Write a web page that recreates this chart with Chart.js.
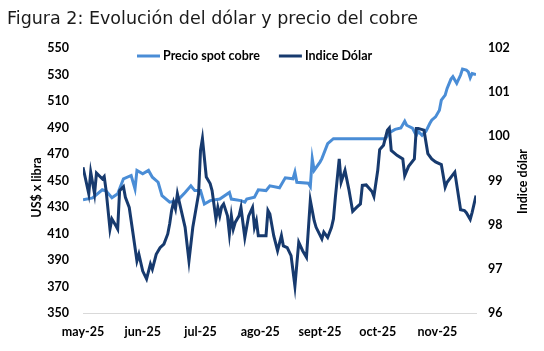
<!DOCTYPE html>
<html>
<head>
<meta charset="utf-8">
<script src="https://cdn.jsdelivr.net/npm/chart.js@4"></script>
<style>
  html, body { margin: 0; padding: 0; background: #ffffff; }
  #wrap { width: 544px; height: 351px; position: relative; }
</style>
</head>
<body>
<div id="wrap"><canvas id="c" width="544" height="351"></canvas></div>
<script>
const chartTitle = 'Figura 2: Evolución del dólar y precio del cobre';
const seriesNames = ['Precio spot cobre', 'Indice Dólar'];
const leftAxisTitle = 'US$ x libra';
const rightAxisTitle = 'Indice dólar';
const monthLabels = ['may-25', 'jun-25', 'jul-25', 'ago-25', 'sept-25', 'oct-25', 'nov-25'];
const monthStarts = ['2025-05-01', '2025-06-01', '2025-07-01', '2025-08-01', '2025-09-01', '2025-10-01', '2025-11-01'];

const copperDates = ['2025-05-01','2025-05-06','2025-05-11','2025-05-13','2025-05-16','2025-05-19','2025-05-22','2025-05-26','2025-05-28','2025-05-29',
  '2025-06-01','2025-06-04','2025-06-06','2025-06-09','2025-06-11','2025-06-15','2025-06-19','2025-06-23','2025-06-26','2025-06-28',
  '2025-07-01','2025-07-03','2025-07-06','2025-07-11','2025-07-16','2025-07-17','2025-07-22','2025-07-24','2025-07-25','2025-07-29','2025-07-31',
  '2025-08-04','2025-08-06','2025-08-11','2025-08-14','2025-08-18','2025-08-19','2025-08-20','2025-08-26','2025-08-27','2025-08-28','2025-08-29',
  '2025-09-01','2025-09-02','2025-09-05','2025-09-08',
  '2025-10-05','2025-10-07','2025-10-10','2025-10-13','2025-10-15','2025-10-16','2025-10-19','2025-10-21','2025-10-22','2025-10-24','2025-10-26','2025-10-28','2025-10-29','2025-10-31',
  '2025-11-02','2025-11-03','2025-11-05','2025-11-06','2025-11-08','2025-11-09','2025-11-11','2025-11-13','2025-11-14','2025-11-16','2025-11-17','2025-11-18','2025-11-19','2025-11-21'];
const copperValues = [435.4,436.9,443,442,437,440,451.3,453.8,443.7,457.6,
  455,457.6,452.5,448.7,438.6,433.6,434.8,441,446,442.4,
  442.4,432.3,434.8,436,441,436,434.8,433.6,436,437.4,443,
  442.4,446,444.5,452,451.3,456.3,448.7,448,445.5,466.5,457.6,
  463.9,466.5,477.8,481.6,
  481.6,486.1,488.6,489.6,494.7,491.7,489.6,484.1,487.1,484.1,487.1,493,495.5,498,
  503,510.6,514.4,519.5,526.5,528.3,523.3,529.6,534.1,533.3,532,527.5,530.8,530];

const dollarDates = ['2025-05-01','2025-05-04','2025-05-05','2025-05-07','2025-05-08','2025-05-11','2025-05-12','2025-05-13','2025-05-15','2025-05-16',
  '2025-05-18','2025-05-19','2025-05-20','2025-05-22','2025-05-23','2025-05-25','2025-05-27','2025-05-29','2025-05-30',
  '2025-06-01','2025-06-03','2025-06-05','2025-06-06','2025-06-08','2025-06-10','2025-06-12','2025-06-14','2025-06-15','2025-06-16','2025-06-17',
  '2025-06-18','2025-06-19','2025-06-20','2025-06-23','2025-06-25','2025-06-27','2025-06-30',
  '2025-07-01','2025-07-02','2025-07-04','2025-07-06','2025-07-07','2025-07-09','2025-07-10','2025-07-11','2025-07-12','2025-07-13','2025-07-15',
  '2025-07-16','2025-07-17','2025-07-18','2025-07-19','2025-07-21','2025-07-22','2025-07-24','2025-07-26','2025-07-28','2025-07-29','2025-07-30','2025-07-31',
  '2025-08-04','2025-08-05','2025-08-06','2025-08-08','2025-08-10','2025-08-12','2025-08-13','2025-08-15','2025-08-17','2025-08-19','2025-08-20',
  '2025-08-21','2025-08-23','2025-08-25','2025-08-27','2025-08-29','2025-08-30',
  '2025-09-02','2025-09-03','2025-09-05','2025-09-07','2025-09-08','2025-09-09','2025-09-11','2025-09-12','2025-09-14','2025-09-16','2025-09-18',
  '2025-09-20','2025-09-22','2025-09-23','2025-09-25','2025-09-28','2025-09-29',
  '2025-10-01','2025-10-02','2025-10-04','2025-10-06','2025-10-07','2025-10-08','2025-10-11','2025-10-14','2025-10-15','2025-10-17','2025-10-20',
  '2025-10-21','2025-10-22','2025-10-25','2025-10-27','2025-10-29','2025-10-31',
  '2025-11-03','2025-11-05','2025-11-06','2025-11-10','2025-11-13','2025-11-15','2025-11-16','2025-11-18','2025-11-19','2025-11-21'];
const dollarValues = [99.30,98.70,99.19,98.70,99.17,99.04,99.09,98.77,97.90,98.13,
  97.98,97.90,98.77,98.86,98.62,98.39,97.79,97.18,97.33,
  96.95,96.77,97.11,96.99,97.33,97.48,97.56,97.79,98.02,98.32,98.51,
  98.36,98.70,98.51,97.94,97.18,97.94,98.70,
  99.68,99.95,99.08,98.93,98.77,98.13,98.39,98.20,98.41,98.47,98.20,
  97.79,98.20,97.90,98.05,98.20,98.39,97.71,98.20,98.39,97.94,98.09,97.75,
  97.75,98.32,98.24,97.75,97.41,97.75,97.52,97.48,97.30,96.61,97.11,
  97.60,97.41,97.26,98.55,98.09,97.94,
  97.68,97.83,97.71,97.94,98.13,98.62,99.49,98.96,99.23,98.80,98.30,
  98.39,98.47,98.89,98.90,98.75,98.64,
  99.23,99.70,99.80,100.14,100.19,99.68,99.57,99.49,99.11,99.32,99.49,
  100.18,100.18,100.14,99.61,99.49,99.42,
  99.36,98.85,98.96,99.19,98.34,98.32,98.27,98.12,98.28,98.66];

const BASE = Date.UTC(2025, 4, 1);
function dayOf(s) {
  const p = s.split('-').map(Number);
  return (Date.UTC(p[0], p[1] - 1, p[2]) - BASE) / 86400000;
}
const monthTickDays = monthStarts.map(dayOf);
const lastDay = Math.max(dayOf(copperDates[copperDates.length - 1]), dayOf(dollarDates[dollarDates.length - 1]));

const COPPER = '#4a8dd6';
const DOLLAR = '#173a6e';
const LABEL_FONT = 'Lato, "Liberation Sans", sans-serif';

const decor = {
  id: 'decor',
  afterDraw(chart) {
    const ctx = chart.ctx;
    const ca = chart.chartArea;
    ctx.save();
    // title
    ctx.fillStyle = '#1a1a1a';
    ctx.font = '17.5px "DejaVu Sans"';
    ctx.textAlign = 'left';
    ctx.textBaseline = 'alphabetic';
    ctx.fillText(chartTitle, 7, 24);
    // legend
    ctx.font = 'bold 12.5px ' + LABEL_FONT;
    ctx.textBaseline = 'middle';
    let x = 137;
    const y = 56;
    chart.data.datasets.forEach((ds, i) => {
      ctx.strokeStyle = ds.borderColor;
      ctx.lineWidth = 3;
      ctx.beginPath();
      ctx.moveTo(x, y);
      ctx.lineTo(x + 23, y);
      ctx.stroke();
      ctx.fillStyle = '#000';
      ctx.fillText(ds.label, x + 26, y);
      x += 26 + ctx.measureText(ds.label).width + 19;
    });
    // axis titles
    ctx.font = 'bold 12.5px ' + LABEL_FONT;
    ctx.textAlign = 'center';
    ctx.textBaseline = 'middle';
    ctx.fillStyle = '#000';
    ctx.save();
    ctx.translate(37, (ca.top + ca.bottom) / 2 + 7);
    ctx.rotate(-Math.PI / 2);
    ctx.fillText(leftAxisTitle, 0, 0);
    ctx.restore();
    ctx.save();
    ctx.translate(523, (ca.top + ca.bottom) / 2 + 1);
    ctx.rotate(-Math.PI / 2);
    ctx.fillText(rightAxisTitle, 0, 0);
    ctx.restore();
    ctx.restore();
  }
};

new Chart(document.getElementById('c'), {
  type: 'line',
  data: {
    datasets: [
      {
        label: seriesNames[0],
        data: copperDates.map((d, i) => ({ x: dayOf(d), y: copperValues[i] })),
        borderColor: COPPER,
        backgroundColor: COPPER,
        borderWidth: 3,
        pointRadius: 0,
        tension: 0,
        yAxisID: 'y',
        order: 1
      },
      {
        label: seriesNames[1],
        data: dollarDates.map((d, i) => ({ x: dayOf(d), y: dollarValues[i] })),
        borderColor: DOLLAR,
        backgroundColor: DOLLAR,
        borderWidth: 3,
        pointRadius: 0,
        tension: 0,
        yAxisID: 'y1',
        order: 0
      }
    ]
  },
  options: {
    responsive: false,
    animation: false,
    layout: { padding: { top: 48, left: 0, right: 0, bottom: 0 } },
    plugins: { legend: { display: false }, title: { display: false }, tooltip: { enabled: false } },
    scales: {
      x: {
        type: 'linear',
        min: 0,
        max: lastDay,
        grid: { display: false, drawTicks: false },
        border: { display: true, color: '#d9d9d9', width: 1 },
        afterBuildTicks(scale) { scale.ticks = monthTickDays.map(v => ({ value: v })); },
        afterFit(scale) { scale.height = 38; },
        ticks: {
          autoSkip: false,
          maxRotation: 0,
          padding: 11,
          color: '#000',
          font: { family: LABEL_FONT, size: 12.5, weight: 'bold' },
          callback(v) { const k = monthTickDays.indexOf(v); return k >= 0 ? monthLabels[k] : ''; }
        }
      },
      y: {
        position: 'left',
        min: 350, max: 550,
        grid: { display: false, drawTicks: false },
        border: { display: false },
        afterFit(scale) { scale.width = 83; },
        ticks: { stepSize: 20, padding: 14, color: '#000', font: { family: LABEL_FONT, size: 12.5, weight: 'bold' } }
      },
      y1: {
        position: 'right',
        min: 96, max: 102,
        grid: { display: false, drawTicks: false },
        border: { display: false },
        afterFit(scale) { scale.width = 68; },
        ticks: { stepSize: 1, padding: 12, color: '#000', font: { family: LABEL_FONT, size: 12.5, weight: 'bold' } }
      }
    }
  },
  plugins: [decor]
});
</script>
</body>
</html>
